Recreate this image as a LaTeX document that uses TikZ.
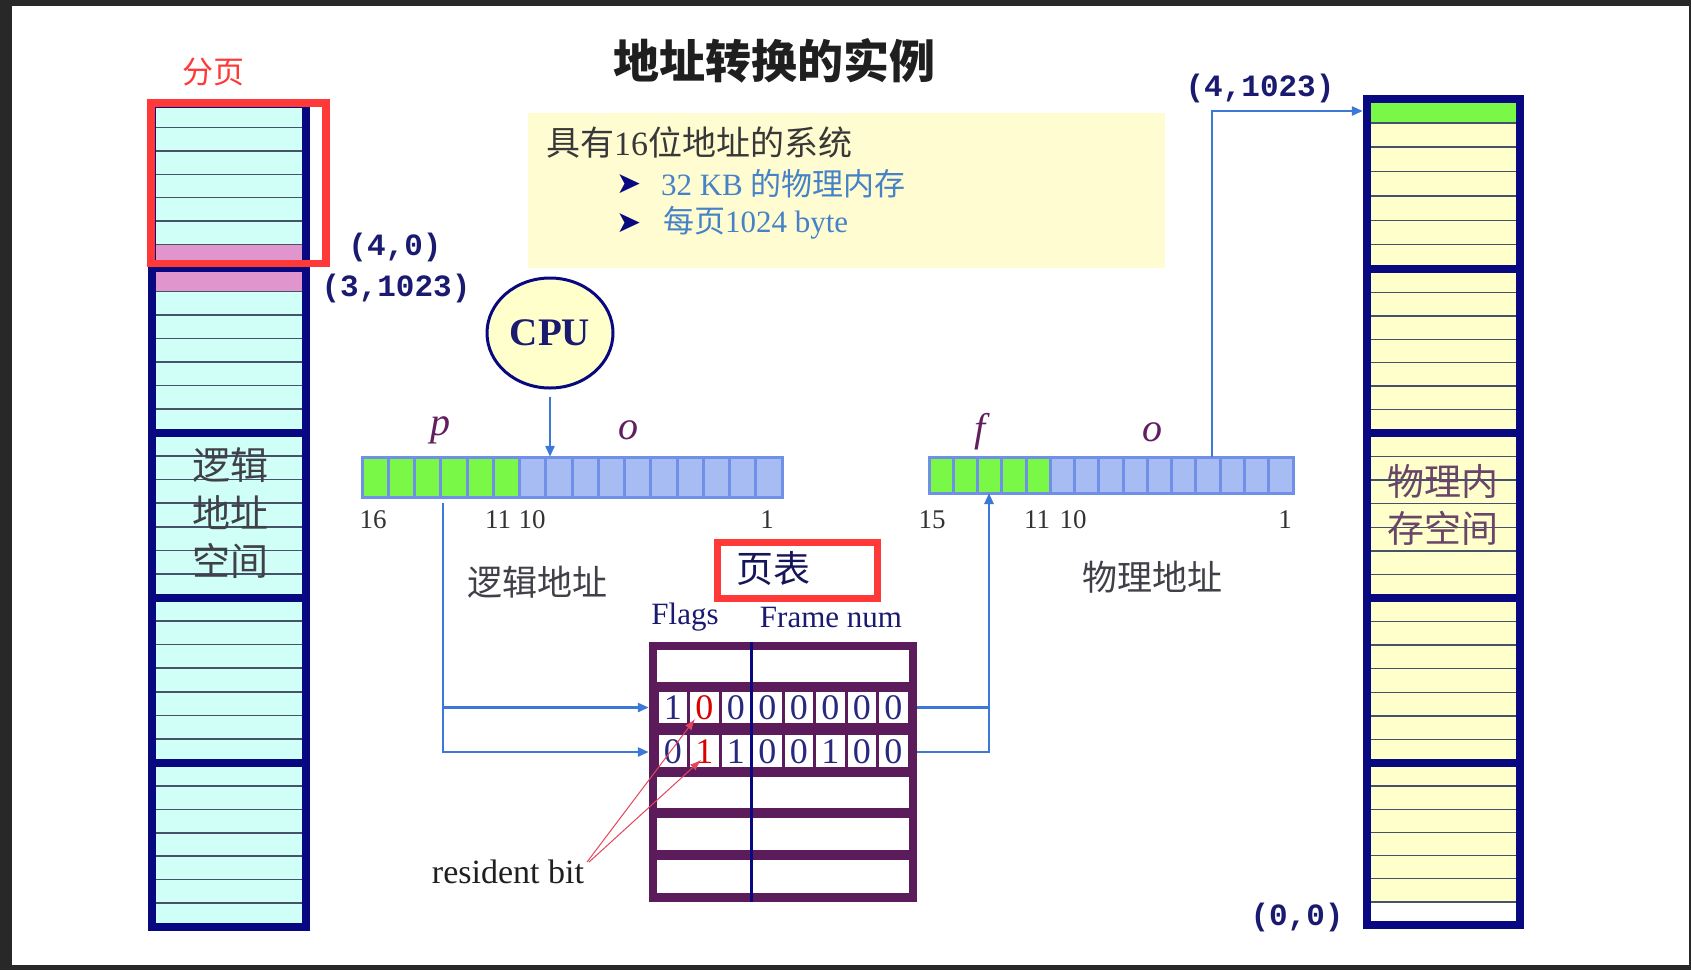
\documentclass[tikz,border=0pt]{standalone}
\usepackage{fontspec}
\setmainfont{Liberation Serif}
\newfontfamily\cjk{Noto Sans CJK SC}
\newfontfamily\monof{Liberation Mono}
\newfontfamily\djv{DejaVu Sans}
\usetikzlibrary{shapes.geometric,arrows.meta}
\definecolor{navy}{RGB}{8,8,128}
\definecolor{cyanfill}{RGB}{208,255,248}
\definecolor{yelfill}{RGB}{255,255,204}
\definecolor{boxyellow}{RGB}{254,252,208}
\definecolor{pinkrow}{RGB}{224,150,204}
\definecolor{greenc}{RGB}{122,248,72}
\definecolor{bluec}{RGB}{168,188,244}
\definecolor{barline}{RGB}{112,144,232}
\definecolor{arrblue}{RGB}{60,120,216}
\definecolor{tpurple}{RGB}{92,28,92}
\definecolor{redbox}{RGB}{255,56,56}
\definecolor{rowline}{RGB}{70,82,106}
\definecolor{txtblue}{RGB}{70,130,200}
\definecolor{labgray}{RGB}{64,64,72}
\definecolor{letterpurple}{RGB}{96,32,96}
\definecolor{coordnavy}{RGB}{26,26,112}
\definecolor{framedark}{RGB}{40,40,40}
\definecolor{digitnavy}{RGB}{40,40,128}
\definecolor{resred}{RGB}{226,70,90}
\begin{document}
\begin{tikzpicture}[x=1pt,y=-1pt,
  txt/.style={inner sep=0pt, outer sep=0pt},
  rowln/.style={rowline, line width=1.5pt},
  thicksep/.style={navy, line width=8pt},
  barcell/.style={barline, line width=3pt},
  conn/.style={arrblue, line width=2.5pt, -{Triangle[length=11pt,width=9pt]}},
  connline/.style={arrblue, line width=2.5pt},
  coordlab/.style={txt, text=coordnavy, font=\monof\bfseries\fontsize{31}{31}\selectfont},
  memtext/.style={txt, align=center},
  numlab/.style={txt, text=black!80, font=\fontsize{27}{27}\selectfont},
  bitletter/.style={txt, text=letterpurple, font=\itshape\fontsize{40}{40}\selectfont},
  addrlab/.style={txt, text=labgray, font=\cjk\fontsize{35}{35}\selectfont},
  digit/.style={txt, text=digitnavy, font=\fontsize{36}{36}\selectfont},
  reddigit/.style={txt, text=red!85!black, font=\fontsize{36}{36}\selectfont},
  resarr/.style={resred, line width=1pt, -{Latex[length=11pt,width=8pt]}},
  rowspan/.style={minimum width=268pt, minimum height=31pt, inner sep=0pt},
  bullet/.style={txt, text=navy, font=\djv\fontsize{30}{30}\selectfont}
]
\useasboundingbox (0,0) rectangle (1691,970);
\fill[framedark] (0,0) rectangle (1691,970);
\fill[white] (12,6) rectangle (1689,965);

% ---------- logical memory ----------
\fill[cyanfill] (152,104) rectangle (306,926.5);
\fill[pinkrow] (152,244.6) rectangle (306,291.4);
\foreach \a/\b in {104/268, 268/432.5, 432.5/597.5, 597.5/762.5, 762.5/926.5}
  \foreach \k in {1,...,6}
    \draw[rowln] (152,{\a+\k*(\b-\a)/7}) -- (306,{\a+\k*(\b-\a)/7});
\foreach \y in {268,432.5,597.5,762.5}
  \draw[thicksep] (152,\y) -- (306,\y);
\draw[navy, line width=8pt] (152,104) rectangle (306,926.5);
\node[memtext, text=labgray, font=\cjk\fontsize{38}{48}\selectfont] (ltext) at (230,513) {逻辑\\地址\\空间};

% red box 分页
\draw[redbox, line width=7.5pt] (151,103) rectangle (326,263.5);
\node[txt, text=redbox, font=\cjk\fontsize{31}{31}\selectfont] (fenye) at (213,72) {分页};
\node[coordlab] (l40) at (395,247) {(4,0)};
\node[coordlab] (l31023) at (396,288) {(3,1023)};

% ---------- title ----------
\node[txt, text=black!88, font=\cjk\bfseries\fontsize{46}{46}\selectfont] (title) at (774,61) {地址转换的实例};

% ---------- yellow info box ----------
\fill[boxyellow] (528,113) rectangle (1165,268);
\node[txt, anchor=west, text=black!78, font=\fontsize{34}{34}\selectfont] (sys) at (546,142) {{\cjk 具有}16{\cjk 位地址的系统}};
\node[bullet] (b1) at (629,184) {➤};
\node[bullet] (b2) at (629,223) {➤};
\node[txt, anchor=west, text=txtblue, font=\fontsize{31}{31}\selectfont] (t1) at (661,184) {32 KB {\cjk 的物理内存}};
\node[txt, anchor=west, text=txtblue, font=\fontsize{31}{31}\selectfont] (t2) at (663,223) {{\cjk 每页}1024 byte};

% ---------- CPU ----------
\node[ellipse, draw=navy, line width=3pt, fill=yelfill, minimum width=126pt, minimum height=110pt, inner sep=0pt, text=coordnavy, font=\bfseries\fontsize{39}{39}\selectfont] (cpu) at (550,333) {CPU};

% ---------- logical address bar ----------
\foreach \i in {0,...,5}
  \draw[barcell, fill=greenc] ({362+\i*26.25},457) rectangle ({362+(\i+1)*26.25},497);
\foreach \i in {6,...,15}
  \draw[barcell, fill=bluec] ({362+\i*26.25},457) rectangle ({362+(\i+1)*26.25},497);
\node[minimum width=420pt, minimum height=40pt, inner sep=0pt] (lbar) at (572,477) {};
\node[bitletter] (pl) at (440,430) {p};
\node[bitletter] (ol) at (628,430) {o};
\node[numlab] (n16) at (373,520) {16};
\node[numlab] (n11a) at (498,520) {11};
\node[numlab] (n10a) at (532,520) {10};
\node[numlab] (n1a) at (767,520) {1};
\node[addrlab] (ladr) at (537,582) {逻辑地址};

% ---------- physical address bar ----------
\foreach \i in {0,...,4}
  \draw[barcell, fill=greenc] ({929+\i*24.267},457) rectangle ({929+(\i+1)*24.267},493);
\foreach \i in {5,...,14}
  \draw[barcell, fill=bluec] ({929+\i*24.267},457) rectangle ({929+(\i+1)*24.267},493);
\node[minimum width=364pt, minimum height=36pt, inner sep=0pt] (fbar) at (1111,475) {};
\node[bitletter] (fl) at (980,432) {f};
\node[bitletter] (of) at (1152,432) {o};
\node[numlab] (n15) at (932,520) {15};
\node[numlab] (n11b) at (1037,520) {11};
\node[numlab] (n10b) at (1073,520) {10};
\node[numlab] (n1b) at (1285,520) {1};
\node[addrlab] (padr) at (1152,577) {物理地址};

% ---------- page table ----------
\draw[redbox, line width=7pt] (717.5,542.5) rectangle (877.5,598.5);
\node[txt, anchor=west, text=coordnavy!80!black, font=\cjk\fontsize{37}{37}\selectfont] (yebiao) at (736,568) {页表};
\node[txt, text=coordnavy, font=\fontsize{31}{31}\selectfont] (flags) at (685,617) {Flags};
\node[txt, text=coordnavy, font=\fontsize{31}{31}\selectfont] (fnum) at (831,617) {Frame num};

\fill[tpurple] (649,642) rectangle (917,902);
\node[minimum width=268pt, minimum height=260pt, inner sep=0pt] (ptab) at (783,772) {};
\foreach \yt/\yb in {650/682, 777/808, 818/850, 860/893}
  \fill[white] (657,\yt) rectangle (909,\yb);
\foreach \yt/\yb in {692/723, 735/767}
  \foreach \k in {0,...,7}
    \fill[white] ({657+\k*31.5+1.5},\yt) rectangle ({657+(\k+1)*31.5-1.5},\yb);
\draw[navy, line width=3pt] (751,642) -- (751,902);
\foreach \k/\d in {0/1,2/0,3/0,4/0,5/0,6/0,7/0}
  \node[digit] (da\k) at ({657+(\k+0.5)*31.5},708) {\d};
\node[reddigit] (da1) at ({657+1.5*31.5},708) {0};
\foreach \k/\d in {0/0,2/1,3/0,4/0,5/1,6/0,7/0}
  \node[digit] (db\k) at ({657+(\k+0.5)*31.5},751.5) {\d};
\node[reddigit] (db1) at ({657+1.5*31.5},751.5) {1};
\node[rowspan] (r2) at (783,707.5) {};
\node[rowspan] (r3) at (783,752) {};

% resident bit
\node[txt, text=black!88, font=\fontsize{34}{34}\selectfont] (rb) at (508,872) {resident bit};
\coordinate (tip1) at (695,719);
\coordinate (tip2) at (701,760);
\draw[resarr] ([xshift=3pt,yshift=-2pt]rb.north east) -- (tip1);
\draw[resarr] ([xshift=5pt,yshift=-2pt]rb.north east) -- (tip2);

% ---------- physical memory ----------
\fill[yelfill] (1367,98.5) rectangle (1519.5,925);
\fill[greenc] (1367,98.5) rectangle (1519.5,122.9);
\fill[white] (1367,901.9) rectangle (1519.5,925);
\foreach \a/\b in {98.5/269, 269/433, 433/598, 598/763, 763/925}
  \foreach \k in {1,...,6}
    \draw[rowln] (1367,{\a+\k*(\b-\a)/7}) -- (1519.5,{\a+\k*(\b-\a)/7});
\foreach \y in {269,433,598,763}
  \draw[thicksep] (1367,\y) -- (1519.5,\y);
\draw[navy, line width=8pt] (1367,98.5) rectangle (1519.5,925);
\node[minimum width=160pt, minimum height=24pt, inner sep=0pt] (pm0) at (1443,111) {};
\node[memtext, text=letterpurple!70!black!80, font=\cjk\fontsize{37}{47}\selectfont] (ptext) at (1443,505) {物理内\\存空间};
\node[coordlab] (p41023) at (1260,88) {(4,1023)};
\node[coordlab] (p00) at (1297,917) {(0,0)};

% ---------- connectors ----------
\draw[conn, shorten <=7pt] (cpu.south) -- (cpu.south |- lbar.north);
\coordinate (ptap) at (443,503);
\draw[conn] (ptap) |- (r3.west);
\draw[conn] (ptap |- r2.west) -- (r2.west);
\coordinate (ftap) at (989,493);
\draw[conn] (r3.east) -| (ftap);
\draw[connline] (r2.east) -- (r2.east -| ftap);
\coordinate (otap) at (1212,457);
\draw[conn] (otap) |- (pm0.west);
\end{tikzpicture}
\end{document}
